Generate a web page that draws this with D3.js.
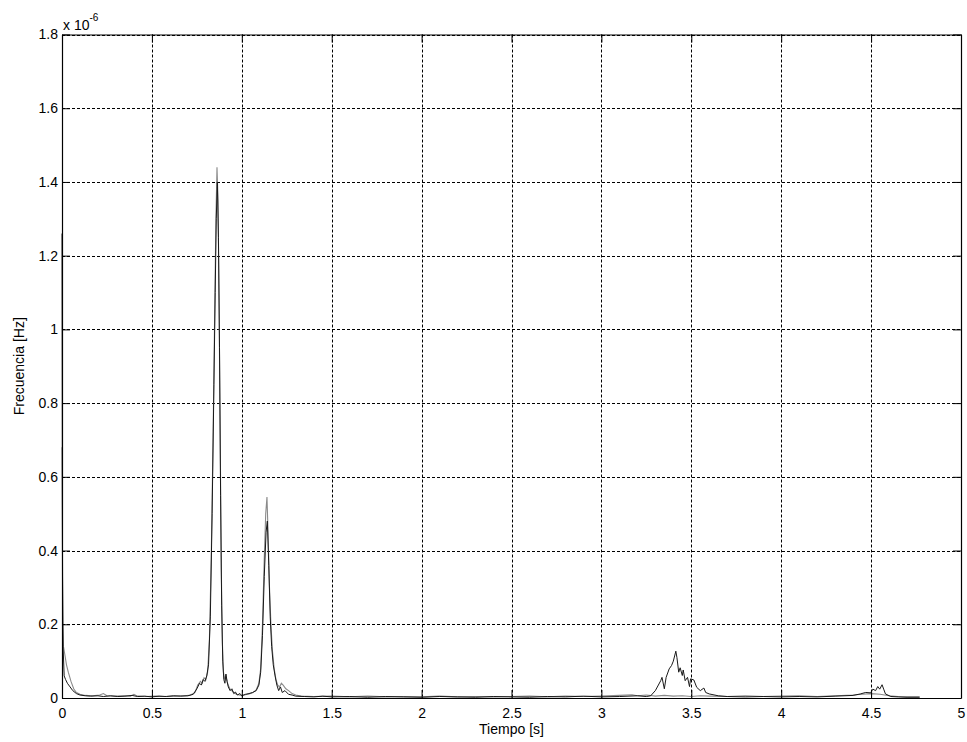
<!DOCTYPE html>
<html>
<head>
<meta charset="utf-8">
<script src="https://cdn.jsdelivr.net/npm/d3@7"></script>
<style>
  body { margin: 0; background: #fff; }
  svg text { font-family: "Liberation Sans", Arial, sans-serif; fill: #000; }
</style>
</head>
<body>
<svg id="chart"></svg>
<script>
// values in units of 1e-6 Hz
const xTicks = [0, 0.5, 1, 1.5, 2, 2.5, 3, 3.5, 4, 4.5, 5];
const yTicks = [0, 0.2, 0.4, 0.6, 0.8, 1, 1.2, 1.4, 1.6, 1.8];

const tDark = [0, 0.003, 0.006, 0.012, 0.02, 0.03, 0.045, 0.06, 0.08, 0.1, 0.13, 0.16, 0.2, 0.23, 0.27, 0.31, 0.35, 0.39, 0.42, 0.46,
  0.5, 0.54, 0.58, 0.62, 0.66, 0.7, 0.73, 0.75, 0.765, 0.775, 0.785, 0.795, 0.805, 0.815, 0.825, 0.835, 0.845, 0.852, 0.858, 0.864,
  0.87, 0.876, 0.882, 0.888, 0.894, 0.9, 0.906, 0.912, 0.918, 0.925, 0.935, 0.945, 0.955, 0.965, 0.975, 0.99, 1.0, 1.02, 1.04, 1.06,
  1.08, 1.095, 1.105, 1.115, 1.125, 1.135, 1.142, 1.15, 1.158, 1.166, 1.175, 1.185, 1.195, 1.205, 1.215, 1.225, 1.24, 1.26, 1.28, 1.3,
  1.35, 1.4, 1.45, 1.5, 1.6, 1.7, 1.8, 1.9, 2.0, 2.1, 2.2, 2.3, 2.4, 2.5, 2.6, 2.7, 2.8, 2.9, 3.0, 3.1,
  3.2, 3.25, 3.274, 3.3, 3.33, 3.337, 3.35, 3.36, 3.377, 3.39, 3.4, 3.414, 3.42, 3.43, 3.438, 3.45, 3.455, 3.466, 3.479, 3.49,
  3.496, 3.514, 3.53, 3.55, 3.57, 3.58, 3.6, 3.65, 3.7, 3.8, 3.9, 4.0, 4.1, 4.2, 4.3, 4.4, 4.44, 4.47, 4.497, 4.51,
  4.525, 4.537, 4.548, 4.561, 4.57, 4.58, 4.61, 4.65, 4.7, 4.77];
const vDark = [1.26, 0.33, 0.14, 0.06, 0.05, 0.04, 0.03, 0.02, 0.012, 0.008, 0.006, 0.005, 0.006, 0.004, 0.006, 0.004, 0.005, 0.007, 0.004, 0.005,
  0.003, 0.005, 0.004, 0.006, 0.005, 0.006, 0.01, 0.025, 0.04, 0.035, 0.05, 0.045, 0.06, 0.09, 0.22, 0.5, 0.85, 1.1, 1.3, 1.40,
  1.25, 0.95, 0.55, 0.25, 0.1, 0.05, 0.04, 0.065, 0.045, 0.03, 0.02, 0.025, 0.012, 0.016, 0.008, 0.012, 0.006, 0.01, 0.012, 0.015,
  0.02, 0.035, 0.07, 0.17, 0.33, 0.45, 0.48, 0.36, 0.22, 0.14, 0.09, 0.06, 0.035, 0.02, 0.03, 0.015, 0.02, 0.01, 0.008, 0.005,
  0.004, 0.003, 0.005, 0.003, 0.004, 0.002, 0.004, 0.003, 0.002, 0.004, 0.003, 0.002, 0.004, 0.003, 0.002, 0.004, 0.003, 0.005, 0.003, 0.004,
  0.006, 0.004, 0.006, 0.02, 0.047, 0.056, 0.025, 0.056, 0.079, 0.088, 0.10, 0.127, 0.11, 0.07, 0.082, 0.061, 0.076, 0.047, 0.056, 0.031,
  0.052, 0.049, 0.029, 0.02, 0.027, 0.015, 0.011, 0.006, 0.004, 0.003, 0.004, 0.003, 0.004, 0.003, 0.005, 0.007, 0.011, 0.015, 0.014, 0.024,
  0.02, 0.031, 0.024, 0.036, 0.024, 0.011, 0.004, 0.003, 0.002, 0.002];

const tGray = [0, 0.004, 0.008, 0.015, 0.025, 0.035, 0.05, 0.065, 0.08, 0.1, 0.13, 0.17, 0.21, 0.23, 0.25, 0.3, 0.35, 0.38, 0.4, 0.42,
  0.47, 0.52, 0.57, 0.62, 0.67, 0.71, 0.74, 0.755, 0.77, 0.78, 0.79, 0.8, 0.81, 0.82, 0.83, 0.84, 0.848, 0.856, 0.862, 0.868,
  0.874, 0.88, 0.886, 0.892, 0.898, 0.904, 0.91, 0.916, 0.924, 0.934, 0.944, 0.956, 0.97, 0.985, 1.0, 1.02, 1.04, 1.06, 1.08, 1.095,
  1.105, 1.115, 1.125, 1.133, 1.14, 1.146, 1.154, 1.162, 1.17, 1.18, 1.19, 1.2, 1.21, 1.22, 1.23, 1.245, 1.26, 1.28, 1.3, 1.33,
  1.4, 1.5, 1.6, 1.7, 1.8, 1.9, 2.0, 2.1, 2.2, 2.3, 2.4, 2.5, 2.6, 2.7, 2.8, 2.9, 3.0, 3.1, 3.17, 3.2,
  3.25, 3.3, 3.35, 3.4, 3.45, 3.5, 3.55, 3.6, 3.7, 3.8, 3.9, 4.0, 4.1, 4.2, 4.3, 4.4, 4.45, 4.5, 4.55, 4.6,
  4.65, 4.7, 4.77];
const vGray = [0.68, 0.2, 0.14, 0.12, 0.09, 0.07, 0.045, 0.025, 0.015, 0.01, 0.007, 0.006, 0.008, 0.012, 0.006, 0.005, 0.006, 0.005, 0.01, 0.005,
  0.004, 0.005, 0.004, 0.005, 0.006, 0.007, 0.015, 0.035, 0.045, 0.04, 0.055, 0.05, 0.07, 0.16, 0.38, 0.7, 1.0, 1.3, 1.44, 1.35,
  1.05, 0.7, 0.35, 0.15, 0.07, 0.05, 0.06, 0.05, 0.035, 0.025, 0.02, 0.015, 0.01, 0.008, 0.007, 0.009, 0.011, 0.014, 0.022, 0.04,
  0.08, 0.2, 0.38, 0.5, 0.545, 0.45, 0.3, 0.2, 0.13, 0.08, 0.05, 0.035, 0.03, 0.04, 0.035, 0.025, 0.02, 0.012, 0.008, 0.005,
  0.004, 0.005, 0.003, 0.005, 0.003, 0.004, 0.003, 0.005, 0.003, 0.004, 0.003, 0.004, 0.005, 0.003, 0.005, 0.004, 0.005, 0.007, 0.009, 0.006,
  0.008, 0.005, 0.007, 0.005, 0.006, 0.004, 0.006, 0.005, 0.004, 0.006, 0.004, 0.005, 0.006, 0.004, 0.006, 0.008, 0.01, 0.012, 0.01, 0.006,
  0.004, 0.003, 0.003];

const width = 967, height = 742;
const mLeft = 62, mRight = 961, mTop = 34.5, mBottom = 698;

const svg = d3.select("#chart").attr("width", width).attr("height", height);
svg.append("rect").attr("width", width).attr("height", height).attr("fill", "#fff");

const x = d3.scaleLinear().domain([0, 5]).range([mLeft, mRight]);
const y = d3.scaleLinear().domain([0, 1.8]).range([mBottom, mTop]);

// dotted grid
const grid = svg.append("g").attr("stroke", "#000").attr("stroke-width", 1).attr("stroke-dasharray", "3,2");
grid.selectAll(".gx").data(xTicks.slice(1, -1)).enter().append("line")
    .attr("x1", d => Math.round(x(d)) + 0.5).attr("x2", d => Math.round(x(d)) + 0.5)
    .attr("y1", mTop).attr("y2", mBottom);
grid.selectAll(".gy").data(yTicks.slice(1)).enter().append("line")
    .attr("y1", d => Math.round(y(d)) + 0.5).attr("y2", d => Math.round(y(d)) + 0.5)
    .attr("x1", mLeft).attr("x2", mRight);

// series
const line = d3.line().x(d => x(d[0])).y(d => y(d[1]));
svg.append("path")
    .datum(tGray.map((t, i) => [t, vGray[i]]))
    .attr("fill", "none").attr("stroke", "#8a8a8a").attr("stroke-width", 1.1)
    .attr("d", line);
svg.append("path")
    .datum(tDark.map((t, i) => [t, vDark[i]]))
    .attr("fill", "none").attr("stroke", "#1a1a1a").attr("stroke-width", 1)
    .attr("d", line);

// axes with inward ticks, box on
const tickLen = 8;
const fmt = d => String(+d.toFixed(1));

svg.append("g").attr("transform", `translate(0,${mBottom})`)
    .call(d3.axisBottom(x).tickValues(xTicks).tickFormat(fmt).tickSizeInner(-tickLen).tickSizeOuter(0).tickPadding(10));
svg.append("g").attr("transform", `translate(0,${mTop})`)
    .call(d3.axisTop(x).tickValues(xTicks).tickFormat("").tickSizeInner(-tickLen).tickSizeOuter(0));
const yAxis = svg.append("g").attr("transform", `translate(${mLeft},0)`)
    .call(d3.axisLeft(y).tickValues(yTicks).tickFormat(fmt).tickSizeInner(-tickLen).tickSizeOuter(0).tickPadding(4));
svg.append("g").attr("transform", `translate(${mRight},0)`)
    .call(d3.axisRight(y).tickValues(yTicks).tickFormat("").tickSizeInner(-tickLen).tickSizeOuter(0));

svg.selectAll(".domain").attr("stroke", "#000").attr("stroke-width", 1.2);
svg.selectAll(".tick line").attr("stroke", "#000");
svg.selectAll(".tick text").style("font-size", "14px").attr("fill", "#000");
yAxis.selectAll(".tick text").attr("x", -4);

// exponent label
const expo = svg.append("text").attr("x", mLeft + 1).attr("y", 30).style("font-size", "14px");
expo.append("tspan").text("x 10");
expo.append("tspan").attr("dy", -9).style("font-size", "10px").text("-6");

// axis titles
svg.append("text")
    .attr("x", (mLeft + mRight) / 2).attr("y", 734)
    .attr("text-anchor", "middle").style("font-size", "14px")
    .text("Tiempo [s]");
svg.append("text")
    .attr("transform", `translate(24,${(mTop + mBottom) / 2}) rotate(-90)`)
    .attr("text-anchor", "middle").style("font-size", "14px")
    .text("Frecuencia [Hz]");
</script>
</body>
</html>
